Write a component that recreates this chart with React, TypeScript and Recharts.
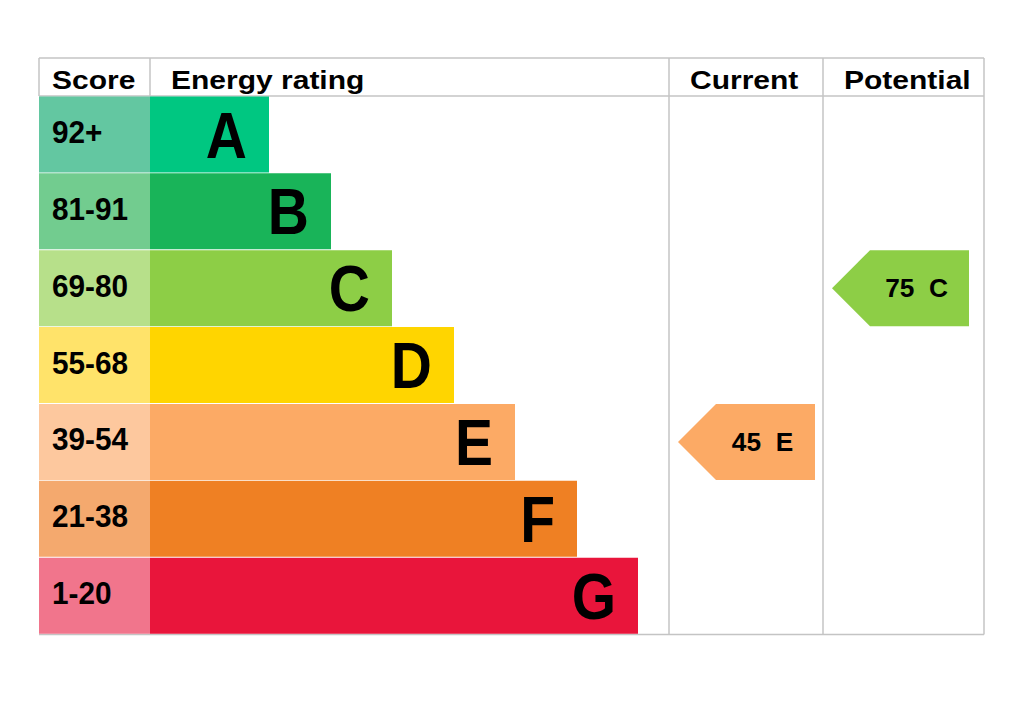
import React from 'react';
import { ComposedChart, Bar, XAxis, YAxis, Cell, LabelList, Customized } from 'recharts';

// ---- data ----
const ratings = ['A', 'B', 'C', 'D', 'E', 'F', 'G'];
const scoreRanges = ['92+', '81-91', '69-80', '55-68', '39-54', '21-38', '1-20'];
const ratingBarLengths = [119, 181, 242, 304, 365, 427, 488];
const scoreColors = ['#63c7a1', '#72cc8f', '#b7e08a', '#ffe36a', '#fdc89e', '#f4a96e', '#f1758c'];
const ratingColors = ['#00c781', '#19b459', '#8dce46', '#ffd500', '#fcaa65', '#ef8023', '#e9153b'];
const headers = ['Score', 'Energy rating', 'Current', 'Potential'];
const currentScore = 45;
const currentRating = 'E';
const potentialScore = 75;
const potentialRating = 'C';

// ---- layout constants ----
const W = 1024;
const H = 722;
const M = { top: 96, right: 40, bottom: 88, left: 39 };
const PLOT_W = W - M.left - M.right; // 945
const SCORE_COL = 111;
const CUR_COL = [630, 784];
const POT_COL = [784, 945];
const ARROW_INSET = 9;
const ARROW_W = 137;
const FONT = '"Liberation Sans", Arial, Helvetica, sans-serif';
const GRID = '#c4c4c4';

const tableData = ratings.map((r, i) => ({
  rating: r,
  range: scoreRanges[i],
  scoreCell: SCORE_COL,
  len: ratingBarLengths[i],
  current: r === currentRating ? [CUR_COL[0] + ARROW_INSET, CUR_COL[0] + ARROW_INSET + ARROW_W] : null,
  potential: r === potentialRating ? [POT_COL[0] + ARROW_INSET, POT_COL[0] + ARROW_INSET + ARROW_W] : null,
}));

const STxt = ({ x, y, sx, size, anchor = 'start', children }: any) => (
  <text
    transform={`translate(${x},${y}) scale(${sx},1)`}
    fontSize={size}
    fontWeight="bold"
    textAnchor={anchor}
    fontFamily={FONT}
    fill="#000"
    style={{ whiteSpace: 'pre' }}
  >
    {children}
  </text>
);

const ScoreLabel = (p: any) => {
  const { x, y, height, value } = p;
  return <STxt x={x + 13} y={y + height / 2 - 3 + 11.5} sx={0.93} size={32}>{value}</STxt>;
};

const LetterLabel = (p: any) => {
  const { x, y, width, height, value } = p;
  return <STxt x={x + width - 22} y={y + height / 2 + 23} sx={0.89} size={64} anchor="end">{value}</STxt>;
};

const makeArrow = (score: number, rating: string, key: 'current' | 'potential') => (p: any) => {
  const { x, y, width, height, payload } = p;
  if (!payload || payload[key] == null || !width) return null;
  const sh = height / 2;
  const cy = y + height / 2;
  const idx = ratings.indexOf(rating);
  const pts = `${x},${cy} ${x + sh},${y} ${x + width},${y} ${x + width},${y + height} ${x + sh},${y + height}`;
  const tx = x + sh + (width - sh) / 2 - 3;
  return (
    <g>
      <polygon points={pts} fill={ratingColors[idx]} />
      <STxt x={tx} y={cy + 9} sx={1.05} size={25} anchor="middle">{`${score}  ${rating}`}</STxt>
    </g>
  );
};

const Frame = () => {
  const L = M.left;
  const R = W - M.right;
  const T = 58;
  const HB = M.top;
  const B = H - M.bottom + 0.5;
  const x1 = L + SCORE_COL;
  const x2 = L + CUR_COL[0];
  const x3 = L + POT_COL[0];
  const ln = (a: number, b: number, c: number, d: number, k: string) => (
    <line key={k} x1={a} y1={b} x2={c} y2={d} stroke={GRID} strokeWidth={1.5} />
  );
  return (
    <g>
      {ln(L, T, R, T, 't')}
      {ln(L, HB, R, HB, 'h')}
      {ln(L, B, R, B, 'b')}
      {ln(L, T, L, HB, 'l')}
      {ln(R, T, R, B, 'r')}
      {ln(x1, T, x1, HB, 'c1')}
      {ln(x2, T, x2, B, 'c2')}
      {ln(x3, T, x3, B, 'c3')}
      <STxt x={52} y={88.5} sx={1.2} size={25}>{headers[0]}</STxt>
      <STxt x={171} y={88.5} sx={1.2} size={25}>{headers[1]}</STxt>
      <STxt x={690} y={88.5} sx={1.2} size={25}>{headers[2]}</STxt>
      <STxt x={844} y={88.5} sx={1.2} size={25}>{headers[3]}</STxt>
    </g>
  );
};

export default function App() {
  return (
    <div style={{ position: 'absolute', left: 0, top: 0, width: W, height: H, background: '#fff' }}>
      <ComposedChart width={W} height={H} data={tableData} layout="vertical" margin={M} barCategoryGap={0.5}>
        <XAxis type="number" domain={[0, PLOT_W]} hide />
        <YAxis yAxisId="main" type="category" dataKey="rating" hide />
        <YAxis yAxisId="cur" type="category" dataKey="rating" hide />
        <YAxis yAxisId="pot" type="category" dataKey="rating" hide />
        <Bar yAxisId="main" dataKey="scoreCell" stackId="s" isAnimationActive={false}>
          {tableData.map((d, i) => (
            <Cell key={d.rating} fill={scoreColors[i]} />
          ))}
          <LabelList dataKey="range" content={ScoreLabel} />
        </Bar>
        <Bar yAxisId="main" dataKey="len" stackId="s" isAnimationActive={false}>
          {tableData.map((d, i) => (
            <Cell key={d.rating} fill={ratingColors[i]} />
          ))}
          <LabelList dataKey="rating" content={LetterLabel} />
        </Bar>
        <Bar yAxisId="cur" dataKey="current" isAnimationActive={false} shape={makeArrow(currentScore, currentRating, 'current')} />
        <Bar yAxisId="pot" dataKey="potential" isAnimationActive={false} shape={makeArrow(potentialScore, potentialRating, 'potential')} />
        <Customized component={Frame} />
      </ComposedChart>
    </div>
  );
}
